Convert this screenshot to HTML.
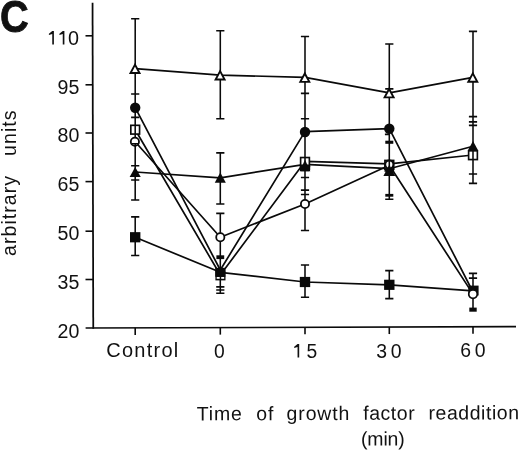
<!DOCTYPE html>
<html>
<head>
<meta charset="utf-8">
<title>Figure C</title>
<style>
  html, body { margin: 0; padding: 0; background: #ffffff; }
  body { width: 520px; height: 450px; overflow: hidden; position: relative;
         font-family: "Liberation Sans", sans-serif; color: #111; }
  svg { position: absolute; left: 0; top: 0; filter: grayscale(1); }
  text { font-family: "Liberation Sans", sans-serif; fill: #111; }
</style>
</head>
<body>
<svg width="520" height="450" viewBox="0 0 520 450">
  <rect x="0" y="0" width="520" height="450" fill="#ffffff"/>

  <!-- axes -->
  <g stroke="#0a0a0a" fill="none" stroke-linecap="butt">
    <line x1="92.55" y1="2.7" x2="93.25" y2="328.8" stroke-width="1.75"/>
    <line x1="85.6" y1="328.0" x2="516" y2="326.7" stroke-width="1.7"/>
    <g stroke-width="1.6">
      <line x1="85.5" y1="35.8" x2="93" y2="35.8"/>
      <line x1="85.5" y1="84.8" x2="93" y2="84.8"/>
      <line x1="85.5" y1="133" x2="93" y2="133"/>
      <line x1="85.5" y1="181.6" x2="93" y2="181.6"/>
      <line x1="85.5" y1="231.2" x2="93" y2="231.2"/>
      <line x1="85.5" y1="279.5" x2="93" y2="279.5"/>
      <line x1="135.2" y1="327.85" x2="135.2" y2="334.9"/>
      <line x1="220.3" y1="327.59" x2="220.3" y2="334.62"/>
      <line x1="305" y1="327.34" x2="305" y2="334.34"/>
      <line x1="389.3" y1="327.08" x2="389.3" y2="334.06"/>
      <line x1="473" y1="326.83" x2="473" y2="333.78"/>
    </g>
  </g>

  <!-- panel letter -->
  <text transform="translate(-0.1,31.9) scale(0.9,1)" font-size="44.2" font-weight="bold" stroke="#111" stroke-width="0.8">C</text>

  <!-- y tick labels -->
  <g font-size="19.6" text-anchor="end">
    <text x="68.0" y="44.8" font-size="19.8" text-anchor="start">0</text>
    <text x="79.4" y="94">95</text>
    <text x="79.4" y="142.3">80</text>
    <text x="79.4" y="190.9">65</text>
    <text x="79.4" y="240.3">50</text>
    <text x="79.4" y="288.7">35</text>
    <text x="79.4" y="337.55">20</text>
  </g>

  <!-- y title -->
  <text transform="translate(15.7,255.9) rotate(-90)" font-size="19.6" letter-spacing="1.0" word-spacing="12.7">arbitrary units</text>

  <!-- x tick labels -->
  <g font-size="19">
    <text x="106.3" y="356.8" letter-spacing="1.25" font-size="20">Control</text>
    <text x="214" y="357.5" font-size="19.3">0</text>
    <text x="306.5" y="358.0" font-size="19.3">5</text>
    <text x="376.3" y="357.5" letter-spacing="3.6" font-size="19.4">30</text>
    <text x="460.2" y="357.35" letter-spacing="3.7" font-size="19.4">60</text>
  </g>

  <!-- x title -->
  <g font-size="19.5" letter-spacing="0.85" transform="rotate(-0.2 197 420.4)">
    <text x="196.8" y="420.4">Time</text>
    <text x="256.3" y="420.4">of</text>
    <text x="286.6" y="420.4">growth</text>
    <text x="363.2" y="420.4" letter-spacing="0.55">factor</text>
    <text x="428.5" y="420.4" letter-spacing="0.55">readdition</text>
    <text x="360.9" y="446.2" letter-spacing="-0.15">(min)</text>
  </g>

  <!-- Helvetica-style numeral 1 (no foot serif) -->
  <polygon points="52.25,31 53.9,31 53.9,44.5 52.25,44.5 52.25,34.1 48.9,35 48.9,33.7" fill="#111" stroke="none"/>
  <polygon points="62.75,31 64.4,31 64.4,44.5 62.75,44.5 62.75,34.1 59.4,35 59.4,33.7" fill="#111" stroke="none"/>
  <polygon points="297.55,344 299.2,344 299.2,357.6 297.55,357.6 297.55,347.1 294.2,348 294.2,346.7" fill="#111" stroke="none"/>

  <!-- error bars -->
  <g stroke="#0a0a0a" stroke-width="1.55" fill="none">
    <path d="M135.2 18.7V200 M135.2 216.8V255.5 M220.3 30.7V118.7 M220.3 152.8V204 M220.3 213.3V293.2 M305 36.5V230.5 M305 265V297.2 M389.3 44V199.2 M389.3 270.6V298.6 M473 31.3V183.4 M473 273.3V309.5"/>
  </g>
  <g stroke="#0a0a0a" stroke-width="1.65" fill="none">
    <path d="M131.1 18.7h8.2 M131.1 94h8.2 M131.1 117.3h8.2 M131.1 165.7h8.2 M131.1 180h8.2 M131.1 200h8.2 M131.1 216.8h8.2 M131.1 255.5h8.2 M216.2 30.7h8.2 M216.2 118.7h8.2 M216.2 152.8h8.2 M216.2 204h8.2 M216.2 213.3h8.2 M216.2 286.8h8.2 M216.2 290h8.2 M216.2 293.2h8.2 M300.9 36.5h8.2 M300.9 93.3h8.2 M300.9 118.7h8.2 M300.9 177.5h8.2 M300.9 190.1h8.2 M300.9 194.5h8.2 M300.9 230.5h8.2 M300.9 265h8.2 M300.9 297.2h8.2 M385.2 44h8.2 M385.2 88.8h8.2 M385.2 199.2h8.2 M385.2 270.6h8.2 M385.2 298.6h8.2 M468.9 31.3h8.2 M468.9 116.6h8.2 M468.9 121.8h8.2 M468.9 125.3h8.2 M468.9 174h8.2 M468.9 183.4h8.2 M468.9 273.3h8.2 M468.9 278.1h8.2 M384.9 134.4h4.4"/>
  </g>
  <g fill="#0a0a0a" stroke="none">
    <rect x="216.4" y="255.3" width="7.8" height="3.8"/>
    <rect x="385.3" y="140.7" width="8" height="3.1"/>
    <rect x="385.3" y="193.9" width="8" height="2.8"/>
    <rect x="469.3" y="307.6" width="7.4" height="4.1"/>
  </g>

  <!-- series lines -->
  <g stroke="#0a0a0a" stroke-width="1.7" fill="none" stroke-linejoin="round">
    <polyline points="135.2,68.55 220.3,75.05 305,77.4 389.3,92.95 473,77.3"/>
    <polyline points="135.2,107.7 220.3,270 305,131.6 389.3,128.7 473,292"/>
    <polyline points="135.2,129.7 220.3,275 305,161.4 389.3,163.8 473,155"/>
    <polyline points="135.2,141.8 220.3,237.2 305,204 389.3,165.3 473,294.1"/>
    <polyline points="135.2,172 220.3,177.8 305,164.4 389.3,168.7 473,146.2"/>
    <polyline points="135.2,237.25 220.3,272.3 305,282 389.3,284.8 473,290.8"/>
  </g>

  <!-- markers -->
  <g>
    <polygon points="135,64.65 139.5,73 130.5,73" fill="#fff" stroke="#0a0a0a" stroke-width="1.9" stroke-linejoin="miter"/>
    <polygon points="220.1,71.15 224.6,79.5 215.6,79.5" fill="#fff" stroke="#0a0a0a" stroke-width="1.9" stroke-linejoin="miter"/>
    <polygon points="304.8,73.5 309.3,81.85 300.3,81.85" fill="#fff" stroke="#0a0a0a" stroke-width="1.9" stroke-linejoin="miter"/>
    <polygon points="389.1,89.05 393.6,97.4 384.6,97.4" fill="#fff" stroke="#0a0a0a" stroke-width="1.9" stroke-linejoin="miter"/>
    <polygon points="472.8,73.4 477.3,81.75 468.3,81.75" fill="#fff" stroke="#0a0a0a" stroke-width="1.9" stroke-linejoin="miter"/>
    <circle cx="135.2" cy="107.7" r="5.2" fill="#0a0a0a" stroke="none"/>
    <circle cx="305" cy="132" r="5.2" fill="#0a0a0a" stroke="none"/>
    <circle cx="389.3" cy="128.7" r="5.2" fill="#0a0a0a" stroke="none"/>
    <rect x="130.82" y="125.32" width="8.75" height="8.75" fill="#fff" stroke="#0a0a0a" stroke-width="1.65"/>
    <line x1="135.2" y1="125.4" x2="135.2" y2="134" stroke="#0a0a0a" stroke-width="1.55"/>
    <circle cx="134.9" cy="141.8" r="4.1" fill="#fff" stroke="#0a0a0a" stroke-width="1.8"/>
    <path d="M131.9 143.7h6.6 M135.2 143.7v2.6" stroke="#0a0a0a" stroke-width="1.4" fill="none"/>
    <polygon points="135.2,167 140.75,177.1 129.65,177.1" fill="#0a0a0a" stroke="none"/>
    <rect x="130" y="232.15" width="10.4" height="10.2" fill="#0a0a0a" stroke="none"/>
    <polygon points="220.3,172.55 225.85,182.65 214.75,182.65" fill="#0a0a0a" stroke="none"/>
    <circle cx="220.3" cy="237.2" r="4.1" fill="#fff" stroke="#0a0a0a" stroke-width="1.8"/>
    <rect x="215.4" y="270.2" width="10.1" height="10.2" fill="#0a0a0a" stroke="none"/>
    <rect x="216.7" y="276.9" width="3" height="1.9" fill="#fff" stroke="none"/>
    <rect x="221.2" y="276.9" width="3" height="1.9" fill="#fff" stroke="none"/>
    <rect x="215.25" y="267.8" width="10.1" height="9" fill="#0a0a0a" stroke="none"/>
    <rect x="300.62" y="157.53" width="8.75" height="8.75" fill="#fff" stroke="#0a0a0a" stroke-width="1.65"/>
    <line x1="305" y1="157.6" x2="305" y2="166.2" stroke="#0a0a0a" stroke-width="1.55"/>
    <polygon points="305,159.7 310.3,171.2 299.7,171.2" fill="#0a0a0a" stroke="none"/>
    <rect x="299.8" y="164.4" width="10.4" height="6.9" rx="1.6" fill="#0a0a0a" stroke="none"/>
    <circle cx="305" cy="204" r="4.1" fill="#fff" stroke="#0a0a0a" stroke-width="1.8"/>
    <rect x="299.8" y="276.9" width="10.4" height="10.2" fill="#0a0a0a" stroke="none"/>
    <rect x="384.93" y="160.43" width="8.75" height="8.75" fill="#fff" stroke="#0a0a0a" stroke-width="1.65"/>
    <circle cx="389.3" cy="164.6" r="4.05" fill="#fff" stroke="#0a0a0a" stroke-width="1.9"/>
    <line x1="389.3" y1="160.4" x2="389.3" y2="168.8" stroke="#0a0a0a" stroke-width="1.55"/>
    <polygon points="389.3,164.7 395.2,176.1 383.4,176.1" fill="#0a0a0a" stroke="none"/>
    <rect x="384.5" y="168.2" width="9.6" height="3.6" fill="#0a0a0a" stroke="none"/>
    <rect x="384.1" y="279.7" width="10.4" height="10.2" fill="#0a0a0a" stroke="none"/>
    <rect x="468.62" y="150.82" width="8.75" height="8.75" fill="#fff" stroke="#0a0a0a" stroke-width="1.65"/>
    <line x1="473" y1="150.9" x2="473" y2="159.5" stroke="#0a0a0a" stroke-width="1.55"/>
    <polygon points="473,140.9 478.2,150.4 467.8,150.4" fill="#0a0a0a" stroke="none"/>
    <rect x="468.3" y="285.6" width="10.3" height="9.9" fill="#0a0a0a" stroke="none"/>
    <circle cx="473" cy="294.1" r="4.25" fill="#fff" stroke="#0a0a0a" stroke-width="1.7"/>
  </g>
</svg>
</body>
</html>
